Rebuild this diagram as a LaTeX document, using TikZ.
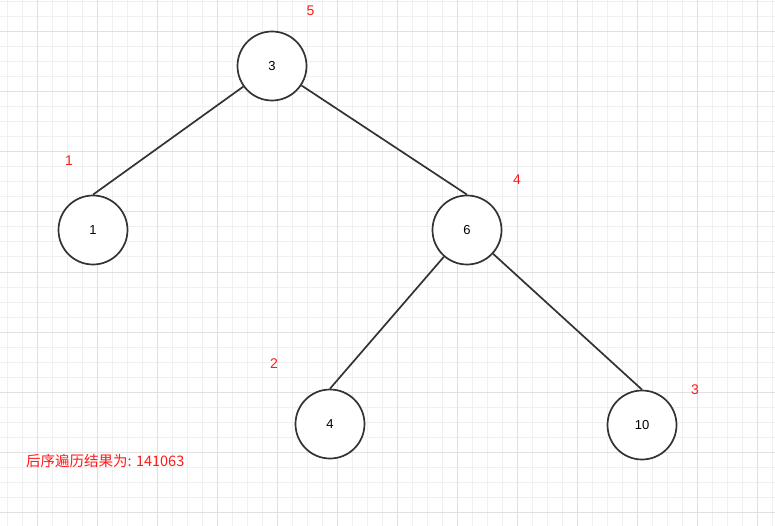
\documentclass[tikz,border=0pt]{standalone}
\usepackage{fontspec}
\setmainfont{Liberation Sans}
\newfontfamily\cjk{Noto Sans CJK SC}
\definecolor{minorgrid}{HTML}{F0F0F0}
\definecolor{majorgrid}{HTML}{E0E0E0}
\definecolor{edgecol}{HTML}{333333}
\definecolor{lbl}{HTML}{FF1A1A}
\begin{document}
\begin{tikzpicture}[x=1pt,y=-1pt,
  treenode/.style={circle, draw=edgecol, line width=1.7pt, minimum size=69pt, inner sep=0pt, fill=white, font=\fontsize{13}{13}\selectfont, text=black},
  edge/.style={draw=edgecol, line width=1.7pt},
  order/.style={text=lbl, inner sep=0pt, font=\fontsize{14}{14}\selectfont}]
\useasboundingbox (0,0) rectangle (775,526);
\fill[white] (0,0) rectangle (775,526);
\foreach \x in {7,22,...,772} \draw[minorgrid, line width=1pt] (\x,0) -- (\x,526);
\foreach \y in {2,17,...,526} \draw[minorgrid, line width=1pt] (0,\y) -- (775,\y);
\foreach \x in {37,97,...,772} \draw[majorgrid, line width=1pt] (\x,0) -- (\x,526);
\foreach \y in {32,92,...,526} \draw[majorgrid, line width=1pt] (0,\y) -- (775,\y);

\node[treenode] (n3) at (272,66) {3};
\node[treenode] (n1) at (93,230) {1};
\node[treenode] (n6) at (467,230) {6};
\node[treenode] (n4) at (330,424) {4};
\node[treenode] (n10) at (642,425) {10};

\draw[edge] (n3) -- (n1.north);
\draw[edge] (n3) -- (n6.north);
\draw[edge] (n6) -- (n4.north);
\draw[edge] (n6) -- (n10.north);

\node[order] (o5) at (310.5,11) {5};
\node[order] (o1) at (69,160.5) {1};
\node[order] (o4) at (517,179.5) {4};
\node[order] (o2) at (274,363.5) {2};
\node[order] (o3) at (695,390) {3};

\node[text=lbl, inner sep=0pt, anchor=west, font=\cjk\fontsize{14.5}{15}\selectfont] (res) at (26,461) {后序遍历结果为: 141063};
\end{tikzpicture}
\end{document}
